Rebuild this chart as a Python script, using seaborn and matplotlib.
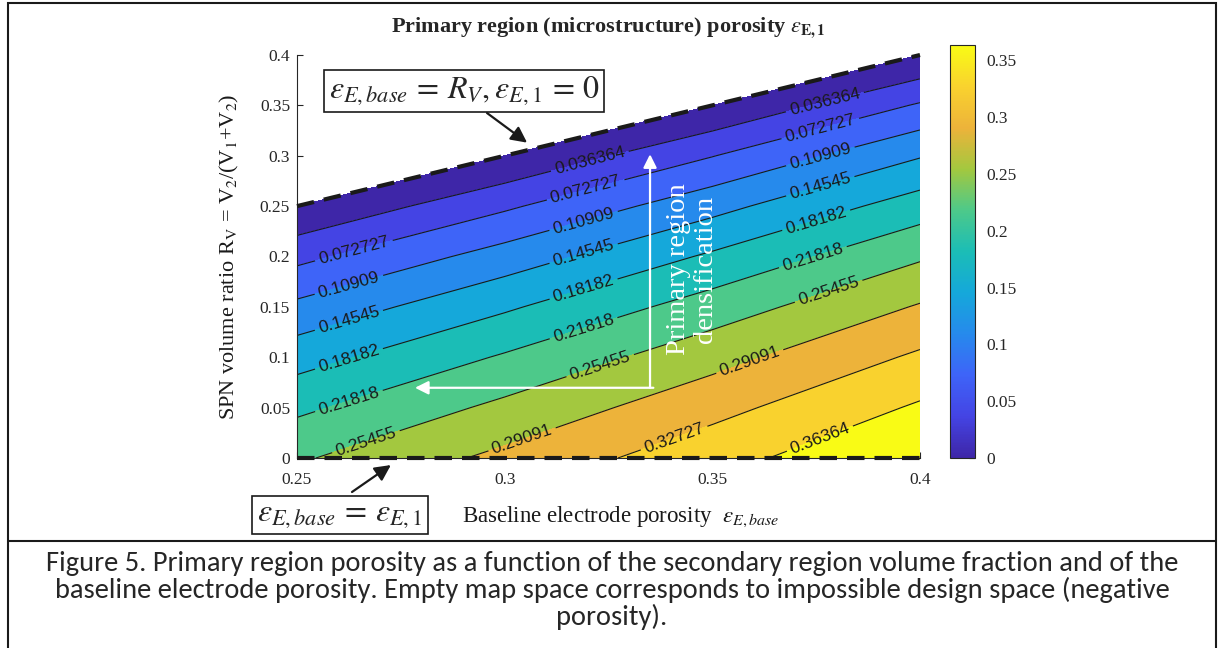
import numpy as np
import matplotlib
matplotlib.use("Agg")
import matplotlib.pyplot as plt
import seaborn as sns
from matplotlib import font_manager
from matplotlib.colors import LinearSegmentedColormap, Normalize
from matplotlib.cm import ScalarMappable
from matplotlib.patches import Rectangle
from matplotlib.lines import Line2D

# Data: primary region porosity eps_E,1
eps_base = [0.25, 0.30, 0.35, 0.40]                       # x: baseline electrode porosity
r_v = [0.00, 0.05, 0.10, 0.15, 0.20, 0.25, 0.30, 0.35, 0.40]  # y: SPN volume ratio
eps_e1 = [
    [0.2500, 0.3000, 0.3500, 0.4000],
    [0.2105, 0.2632, 0.3158, 0.3684],
    [0.1667, 0.2222, 0.2778, 0.3333],
    [0.1176, 0.1765, 0.2353, 0.2941],
    [0.0625, 0.1250, 0.1875, 0.2500],
    [0.0000, 0.0667, 0.1333, 0.2000],
    [-0.0714, 0.0000, 0.0714, 0.1429],
    [-0.1538, -0.0769, 0.0000, 0.0769],
    [-0.2500, -0.1667, -0.0833, 0.0000],
]
line_levels = [0.036364, 0.072727, 0.10909, 0.14545, 0.18182,
               0.21818, 0.25455, 0.29091, 0.32727, 0.36364]
fill_levels = [0.0] + line_levels + [0.4]
x_ticks = [0.25, 0.3, 0.35, 0.4]
y_ticks = [0, 0.05, 0.1, 0.15, 0.2, 0.25, 0.3, 0.35, 0.4]
cbar_ticks = [0, 0.05, 0.1, 0.15, 0.2, 0.25, 0.3, 0.35]

# parula-like band colours (lowest band first)
band_colors = ['#3E26A8', '#4444E4', '#3E64F8', '#268AEC', '#15A8DA', '#1BBDB6',
               '#4DC98A', '#A3C83F', '#EDB33A', '#F9D22E', '#F9FB15']

# where the inline labels sit along each contour (x positions)
label_x = [[0.3205, 0.3771],
           [0.2637, 0.3195, 0.376],
           [0.2625, 0.319, 0.376],
           [0.2625, 0.319, 0.376],
           [0.2625, 0.319, 0.375],
           [0.2625, 0.319, 0.3742],
           [0.2666, 0.323, 0.378],
           [0.3042, 0.359],
           [0.3408],
           [0.3759]]

sns.set_theme(style="ticks")
serif = ['Liberation Serif', 'DejaVu Serif']
plt.rcParams['font.family'] = serif
plt.rcParams['mathtext.fontset'] = 'stix'
grey = '#262626'

installed = {f.name for f in font_manager.fontManager.ttflist}
cap_font = next((n for n in ['Carlito', 'Liberation Sans Narrow', 'Open Sans', 'Noto Sans']
                 if n in installed), 'DejaVu Sans')

W, H = 1223, 648
fig = plt.figure(figsize=(W / 100, H / 100), dpi=100)
fig.patch.set_facecolor('white')
ax = fig.add_axes([297 / W, 190 / H, 623 / W, 403 / H])
cax = fig.add_axes([950 / W, 190 / H, 25 / W, 413 / H])

X, Y = np.meshgrid(eps_base, r_v)
Z = np.array(eps_e1)
ax.contourf(X, Y, Z, levels=fill_levels, colors=band_colors)
cs = ax.contour(X, Y, Z, levels=line_levels, colors='k', linewidths=0.8)

# boundaries: eps_base = R_V (eps_E,1 = 0) and R_V = 0 (eps_E,1 = eps_base)
edge = [eps_base[0], eps_base[-1]]
ax.plot(edge, edge, color='k', lw=3, ls=(0, (4.2, 2.4)), clip_on=False, zorder=5)
ax.plot(edge, [r_v[0], r_v[0]], color='k', lw=3, ls=(0, (4.2, 2.4)), clip_on=False, zorder=5)

ax.set_xlim(0.25, 0.4)
ax.set_ylim(0, 0.4)
ax.set_xticks(x_ticks)
ax.set_yticks(y_ticks)
ax.set_xticklabels(['%g' % v for v in x_ticks])
ax.set_yticklabels(['%g' % v for v in y_ticks])
ax.tick_params(direction='in', length=4, width=0.8, colors=grey, labelsize=12.5)
ax.tick_params(axis='x', pad=10)
ax.tick_params(axis='y', pad=5)
sns.despine(ax=ax)
for s in ['left', 'bottom']:
    ax.spines[s].set_color(grey)
    ax.spines[s].set_linewidth(0.8)

ax.set_xlabel(r'Baseline electrode porosity  $\varepsilon_{E,base}$', fontsize=16.5, color='k')
ax.xaxis.set_label_coords(0.52, -0.146)
ax.xaxis.label.set_va('center')
ax.set_ylabel(r'SPN volume ratio R$_{\mathrm{V}}$ = V$_{\mathrm{2}}$/(V$_{\mathrm{1}}$+V$_{\mathrm{2}}$)',
              fontsize=16, color='k')
ax.yaxis.set_label_coords(-0.109, 0.5)
ax.yaxis.label.set_va('center')
ax.set_title(r'Primary region (microstructure) porosity $\epsilon_{\mathbf{E,1}}$',
             fontsize=16, fontweight='bold', y=1.067, va='center', pad=0)

# colorbar
cmap = LinearSegmentedColormap.from_list('parula_like', band_colors)
norm = Normalize(vmin=0, vmax=line_levels[-1])
cb = fig.colorbar(ScalarMappable(norm=norm, cmap=cmap), cax=cax, ticks=cbar_ticks)
cb.ax.set_yticklabels(['%g' % v for v in cbar_ticks])
cb.ax.tick_params(direction='in', length=4, width=0.8, colors=grey, labelsize=12.5, pad=8)
cb.outline.set_edgecolor(grey)
cb.outline.set_linewidth(0.8)

# inline contour labels (sans serif, like the original)
positions = []
for segs, xs in zip(cs.allsegs, label_x):
    seg = np.concatenate(segs)
    order = np.argsort(seg[:, 0])
    for x in xs:
        positions.append((x, np.interp(x, seg[order, 0], seg[order, 1])))
with plt.rc_context({'font.family': ['Liberation Sans', 'DejaVu Sans']}):
    labels = cs.clabel(manual=positions, inline=True, fmt='%.5g', fontsize=12.5, inline_spacing=4)
for t in labels:
    t.set_fontfamily(['Liberation Sans', 'DejaVu Sans'])

# white guide arrows inside the map
ax.annotate('', xy=(0.335, 0.3015), xytext=(0.335, 0.0697),
            arrowprops=dict(arrowstyle='-|>', color='white', lw=1.6, mutation_scale=20,
                            shrinkA=0, shrinkB=0))
ax.annotate('', xy=(0.2784, 0.0697), xytext=(0.3358, 0.0697),
            arrowprops=dict(arrowstyle='-|>', color='white', lw=1.6, mutation_scale=20,
                            shrinkA=0, shrinkB=0))
ax.text(0.3451, 0.187, 'Primary region\ndensification', rotation=90, color='white',
        fontsize=20.5, ha='center', va='center', multialignment='center', linespacing=1.1)

# boxed equations with black arrows
box = dict(boxstyle='square,pad=0.15', fc='white', ec='k', lw=1.2)
fig.text(464 / W, 1 - 91 / H, r'$\varepsilon_{E,base}\,=\,R_V, \varepsilon_{E,1}\,=\,0$',
         fontsize=23, ha='center', va='center', bbox=box)
fig.text(340 / W, 1 - 515 / H, r'$\varepsilon_{E,base}\,=\,\varepsilon_{E,1}$',
         fontsize=23, ha='center', va='center', bbox=box)
ax.annotate('', xy=(0.3054, 0.313), xytext=(487 / W, 1 - 113 / H), textcoords='figure fraction',
            arrowprops=dict(arrowstyle='-|>', color='k', lw=1.6, mutation_scale=24,
                            shrinkA=0, shrinkB=0), annotation_clip=False)
ax.annotate('', xy=(0.2726, -0.007), xytext=(352 / W, 1 - 492 / H), textcoords='figure fraction',
            arrowprops=dict(arrowstyle='-|>', color='k', lw=1.6, mutation_scale=24,
                            shrinkA=0, shrinkB=0), annotation_clip=False)

# document frame and caption
fig.patches.append(Rectangle((8 / W, -0.05), 1208 / W, 1.05 - 3 / H, transform=fig.transFigure,
                             fill=False, ec='k', lw=1.5))
fig.lines.append(Line2D([8 / W, 1216 / W], [1 - 541 / H, 1 - 541 / H], transform=fig.transFigure,
                        color='k', lw=1.5))
caption = ['Figure 5. Primary region porosity as a function of the secondary region volume fraction and of the',
           'baseline electrode porosity. Empty map space corresponds to impossible design space (negative',
           'porosity).']
cap_y = [563, 590, 617]
cap_texts = [fig.text(612 / W, 1 - y / H, line, fontsize=16, family=cap_font, ha='center', va='center')
             for line, y in zip(caption, cap_y)]
fig.canvas.draw()
scale = 1135 / cap_texts[0].get_window_extent().width
for t in cap_texts:
    t.set_fontsize(16 * scale)

# tick labels in the serif face, set explicitly on every label
for lab in ax.get_xticklabels() + ax.get_yticklabels() + cb.ax.get_yticklabels():
    lab.set_fontfamily(serif)

fig.savefig('out.png', dpi=100)
